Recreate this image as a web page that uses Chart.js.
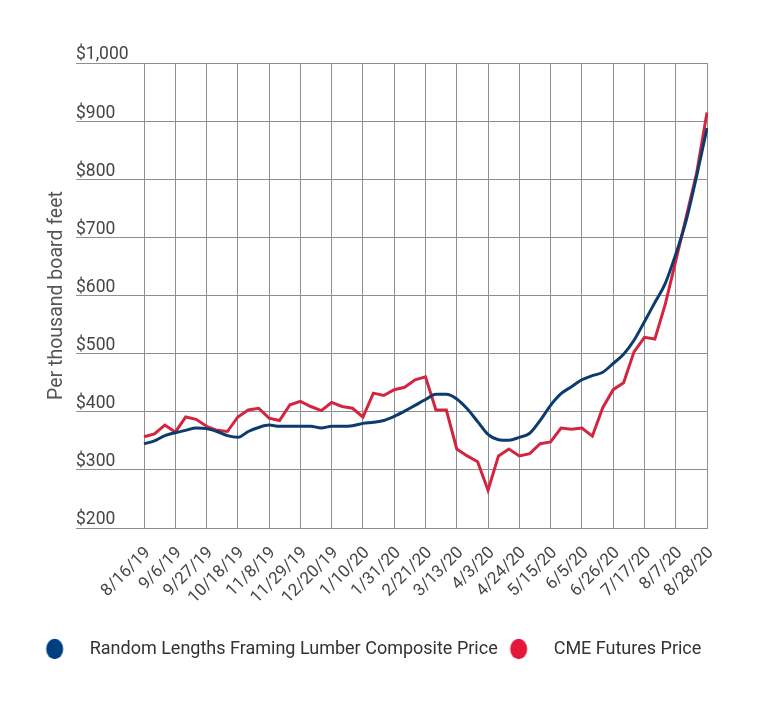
<!DOCTYPE html>
<html>
<head>
<meta charset="utf-8">
<script src="https://cdn.jsdelivr.net/npm/chart.js@4.4.0/dist/chart.umd.min.js"></script>
<style>
  html, body { margin: 0; padding: 0; background: #fff; }
  #wrap { width: 766px; height: 707px; position: relative; }
</style>
</head>
<body>
<div id="wrap"><canvas id="lumberChart"></canvas></div>
<script>
// weekly dates, 8/16/19 - 8/28/20
var weeks = ['8/16/19', '8/23/19', '8/30/19', '9/6/19', '9/13/19', '9/20/19', '9/27/19', '10/4/19', '10/11/19', '10/18/19',
  '10/25/19', '11/1/19', '11/8/19', '11/15/19', '11/22/19', '11/29/19', '12/6/19', '12/13/19', '12/20/19', '12/27/19',
  '1/3/20', '1/10/20', '1/17/20', '1/24/20', '1/31/20', '2/7/20', '2/14/20', '2/21/20', '2/28/20', '3/6/20',
  '3/13/20', '3/20/20', '3/27/20', '4/3/20', '4/10/20', '4/17/20', '4/24/20', '5/1/20', '5/8/20', '5/15/20',
  '5/22/20', '5/29/20', '6/5/20', '6/12/20', '6/19/20', '6/26/20', '7/3/20', '7/10/20', '7/17/20', '7/24/20',
  '7/31/20', '8/7/20', '8/14/20', '8/21/20', '8/28/20'];

// dates shown on the x axis
var tickLabels = ['8/16/19', '9/6/19', '9/27/19', '10/18/19', '11/8/19', '11/29/19', '12/20/19', '1/10/20', '1/31/20',
  '2/21/20', '3/13/20', '4/3/20', '4/24/20', '5/15/20', '6/5/20', '6/26/20', '7/17/20', '8/7/20', '8/28/20'];

var compositePrice = [345, 350, 359, 364, 368, 372, 371, 366, 359, 356,
  366, 373, 377, 375, 375, 375, 375, 372, 375, 375,
  376, 380, 382, 385, 392, 401, 411, 421, 430, 430,
  422, 405, 383, 361, 352, 351, 356, 363, 385, 411,
  431, 443, 455, 462, 468, 483, 499, 523, 555, 588,
  621, 671, 729, 805, 888];

var futuresPrice = [357, 362, 377, 365, 391, 387, 375, 368, 366, 391,
  403, 406, 389, 385, 412, 418, 409, 402, 416, 409,
  406, 391, 432, 428, 438, 442, 455, 460, 403, 403,
  336, 324, 314, 265, 324, 336, 324, 328, 345, 348,
  372, 370, 372, 358, 407, 438, 450, 503, 528, 525,
  585, 659, 735, 810, 915];

var gridColor = '#8f8f8f';
var textColor = '#454545';

// legend markers: a dot with some room after it
function makeDot(color) {
  var c = document.createElement('canvas');
  c.width = 36;
  c.height = 22;
  var g = c.getContext('2d');
  g.fillStyle = color;
  g.beginPath();
  g.ellipse(10, 11, 8.5, 10.2, 0, 0, Math.PI * 2);
  g.fill();
  return c;
}
var legendDots = [makeDot('#003f7f'), makeDot('#e3173a')];

var ctx = document.getElementById('lumberChart').getContext('2d');
var chart = new Chart(ctx, {
  type: 'line',
  data: {
    labels: weeks,
    datasets: [{
      label: 'Random Lengths Framing Lumber Composite Price',
      data: compositePrice,
      borderColor: '#0c3b6e',
      backgroundColor: '#003f7f',
      borderWidth: 3,
      pointRadius: 0,
      cubicInterpolationMode: 'monotone'
    }, {
      label: 'CME Futures Price',
      data: futuresPrice,
      borderColor: '#d42540',
      backgroundColor: '#e3173a',
      borderWidth: 3,
      pointRadius: 0,
      tension: 0
    }]
  },
  options: {
    responsive: true,
    maintainAspectRatio: false,
    animation: false,
    layout: { padding: { left: 0, right: 20, top: 63, bottom: 39 } },
    plugins: {
      tooltip: { enabled: false },
      legend: {
        position: 'bottom',
        labels: {
          usePointStyle: true,
          pointStyleWidth: 36,
          boxHeight: 18,
          padding: 11,
          color: '#333',
          font: { family: 'Roboto', size: 18 },
          generateLabels: function(chart) {
            var items = Chart.defaults.plugins.legend.labels.generateLabels(chart);
            items.forEach(function(item, i) { item.pointStyle = legendDots[i]; });
            return items;
          }
        }
      }
    },
    scales: {
      x: {
        afterFit: function(s) { s.height = 101; },
        grid: {
          drawTicks: false,
          color: function(c) {
            return tickLabels.indexOf(weeks[c.index]) >= 0 ? gridColor : 'rgba(0,0,0,0)';
          }
        },
        border: { color: gridColor },
        ticks: {
          autoSkip: false,
          minRotation: 45,
          maxRotation: 45,
          padding: 15,
          labelOffset: 4,
          color: textColor,
          font: { family: 'Roboto', size: 17 },
          callback: function(v, i) {
            return tickLabels.indexOf(weeks[i]) >= 0 ? weeks[i] : '';
          }
        }
      },
      y: {
        min: 200,
        max: 1000,
        afterFit: function(s) { s.width = 144; },
        grid: { color: gridColor, tickLength: 68 },
        border: { color: gridColor },
        ticks: {
          stepSize: 100,
          mirror: true,
          padding: -68,
          labelOffset: -8,
          color: textColor,
          font: { family: 'Roboto', size: 17.5 },
          callback: function(v) { return '$' + v.toLocaleString('en-US'); }
        },
        title: {
          display: true,
          text: 'Per thousand board feet',
          color: '#555',
          font: { family: 'Roboto', size: 19.5 },
          padding: { top: 45, bottom: 0 }
        }
      },
      // empty axis on the right, only keeps the plot clear of the legend's centre
      yRight: {
        position: 'right',
        afterFit: function(s) { s.width = 39; },
        grid: { display: false },
        border: { display: false },
        ticks: { display: false }
      }
    }
  }
});
</script>
</body>
</html>
